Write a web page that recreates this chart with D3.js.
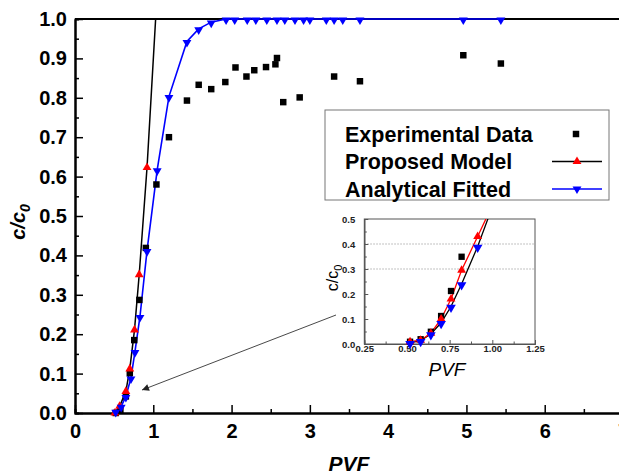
<!DOCTYPE html>
<html>
<head>
<meta charset="utf-8">
<script src="https://cdn.jsdelivr.net/npm/d3@7"></script>
<style>
  body { margin: 0; background: #fff; }
  text { font-family: "Liberation Sans", Arial, sans-serif; }
</style>
</head>
<body>
<svg width="619" height="475"></svg>
<script>
// experimental data (main plot)
var expX = [0.52, 0.58, 0.65, 0.70, 0.757, 0.822, 0.905, 1.04, 1.20, 1.43, 1.58, 1.74, 1.92, 2.05, 2.19, 2.29, 2.44, 2.56, 2.58, 2.66, 2.87, 3.31, 3.64, 4.96, 5.44];
var expY = [0.0, 0.008, 0.042, 0.101, 0.185, 0.287, 0.419, 0.58, 0.70, 0.793, 0.833, 0.822, 0.840, 0.877, 0.854, 0.870, 0.878, 0.885, 0.901, 0.789, 0.801, 0.854, 0.842, 0.908, 0.887];

// proposed model (red triangles, black line)
var modelX = [0.51, 0.57, 0.65, 0.70, 0.76, 0.82, 0.92];
var modelY = [0.0, 0.017, 0.055, 0.112, 0.211, 0.351, 0.623];
var modelEnd = [1.03, 1.0];

// analytical fitted (blue)
var fitX = [0.52, 0.59, 0.65, 0.715, 0.766, 0.83, 0.92, 1.05, 1.20, 1.43, 1.58, 1.74, 1.93, 2.04, 2.20, 2.31, 2.45, 2.58, 2.68, 2.81, 2.92, 3.00, 3.21, 3.31, 3.42, 3.64, 4.96, 5.44];
var fitY = [0.004, 0.017, 0.042, 0.089, 0.156, 0.245, 0.412, 0.617, 0.803, 0.943, 0.975, 0.992, 1, 1, 1, 1, 1, 1, 1, 1, 1, 1, 1, 1, 1, 1, 1, 1];

// inset data
var inX = [0.518, 0.58, 0.64, 0.70, 0.758, 0.82, 0.914];
var inExpY = [0.009, 0.019, 0.049, 0.112, 0.212, 0.349];
var inModelY = [0.009, 0.015, 0.043, 0.10, 0.18, 0.295, 0.43];
var inFitY = [0.005, 0.013, 0.04, 0.085, 0.15, 0.24, 0.39];
var inModelEnd = [1.0, 0.555];
var inFitEnd = [0.99, 0.53];

var yTicks = [0, 0.1, 0.2, 0.3, 0.4, 0.5, 0.6, 0.7, 0.8, 0.9, 1.0];
var xTicks = [0, 1, 2, 3, 4, 5, 6, 7];
var inYTicks = [0, 0.1, 0.2, 0.3, 0.4, 0.5];
var inXTicks = [0.25, 0.5, 0.75, 1.0, 1.25];
var inGrid = [0.3, 0.4];

var legendLabels = ["Experimental Data", "Proposed Model", "Analytical Fitted"];

var svg = d3.select("svg");
var x = d3.scaleLinear().domain([0, 7]).range([75, 623]);
var y = d3.scaleLinear().domain([0, 1]).range([413, 19]);

svg.append("rect").attr("width", 619).attr("height", 475).attr("fill", "#fff");

var defs = svg.append("defs");
defs.append("clipPath").attr("id", "mainclip").append("rect")
  .attr("x", 75).attr("y", 19).attr("width", 548).attr("height", 394);
defs.append("clipPath").attr("id", "inclip").append("rect")
  .attr("x", 364).attr("y", 219).attr("width", 171).attr("height", 125);
defs.append("marker").attr("id", "arrow").attr("viewBox", "0 0 10 10")
  .attr("refX", 10).attr("refY", 5).attr("markerWidth", 9).attr("markerHeight", 7)
  .attr("orient", "auto").attr("markerUnits", "userSpaceOnUse")
  .append("path").attr("d", "M0,0 L10,5 L0,10 Z").attr("fill", "#222");

var tri = d3.symbol().type(d3.symbolTriangle);
var sq = d3.symbol().type(d3.symbolSquare);

// axes
var minorY = d3.range(0.05, 1, 0.1);
var minorX = d3.range(0.5, 7, 1);
svg.append("g").attr("transform", "translate(75,0)")
  .call(d3.axisLeft(y).tickValues(minorY).tickSize(-4).tickFormat(""));
svg.append("g").attr("transform", "translate(0,413)")
  .call(d3.axisBottom(x).tickValues(minorX).tickSize(-4).tickFormat(""));
var ya = svg.append("g").attr("transform", "translate(75,0)")
  .call(d3.axisLeft(y).tickValues(yTicks).tickSize(-8).tickSizeOuter(0).tickPadding(8).tickFormat(d3.format(".1f")));
var xa = svg.append("g").attr("transform", "translate(0,413)")
  .call(d3.axisBottom(x).tickValues(xTicks).tickSize(-8).tickSizeOuter(0).tickPadding(11).tickFormat(d3.format("d")));
svg.selectAll(".domain").attr("stroke-width", 2);
svg.selectAll(".tick line").attr("stroke-width", 1.5);
ya.selectAll("text").attr("font-size", 20).attr("font-weight", "bold").attr("fill", "#000");
xa.selectAll("text").attr("font-size", 20).attr("font-weight", "bold").attr("fill", "#000");
svg.append("line").attr("x1", 75).attr("x2", 623).attr("y1", 19).attr("y2", 19)
  .attr("stroke", "#000").attr("stroke-width", 2);

// axis titles
svg.append("text").attr("x", 349).attr("y", 471).attr("text-anchor", "middle")
  .attr("font-size", 21).attr("font-weight", "bold").attr("font-style", "italic").text("PVF");
var yl = svg.append("text").attr("transform", "translate(25,222) rotate(-90)")
  .attr("text-anchor", "middle").attr("font-size", 20).attr("font-weight", "bold").attr("font-style", "italic");
yl.append("tspan").text("c/c");
yl.append("tspan").attr("font-size", 14).attr("dy", 5).text("0");

// main series
var line = d3.line().x(function(d) { return x(d[0]); }).y(function(d) { return y(d[1]); });
var modelPts = modelX.map(function(v, i) { return [v, modelY[i]]; });
var fitPts = fitX.map(function(v, i) { return [v, fitY[i]]; });
var expPts = expX.map(function(v, i) { return [v, expY[i]]; });

var plot = svg.append("g");
plot.append("path").attr("clip-path", "url(#mainclip)")
  .datum(modelPts.concat([modelEnd])).attr("d", line)
  .attr("fill", "none").attr("stroke", "#000").attr("stroke-width", 1.5);
plot.append("path").datum(fitPts).attr("d", line)
  .attr("fill", "none").attr("stroke", "#0000ff").attr("stroke-width", 1.6);
plot.selectAll(".exp").data(expPts).enter().append("path")
  .attr("d", sq.size(42)).attr("fill", "#000")
  .attr("transform", function(d) { return "translate(" + x(d[0]) + "," + y(d[1]) + ")"; });
plot.selectAll(".mod").data(modelPts).enter().append("path")
  .attr("d", tri.size(34)).attr("fill", "#ff0000")
  .attr("transform", function(d) { return "translate(" + x(d[0]) + "," + y(d[1]) + ")"; });
plot.selectAll(".fit").data(fitPts).enter().append("path")
  .attr("d", tri.size(34)).attr("fill", "#0000ff")
  .attr("transform", function(d) { return "translate(" + x(d[0]) + "," + (y(d[1]) + 1) + ") rotate(180)"; });

// legend
var lg = svg.append("g");
lg.append("rect").attr("x", 325).attr("y", 110).attr("width", 284).attr("height", 90)
  .attr("fill", "#fff").attr("stroke", "#777").attr("stroke-width", 1);
legendLabels.forEach(function(t, i) {
  var cy = 134 + i * 27.5;
  lg.append("text").attr("x", 345).attr("y", cy + 7.5).attr("font-size", 21.5)
    .attr("font-weight", "bold").text(t);
  if (i == 0) {
    lg.append("path").attr("d", sq.size(42)).attr("transform", "translate(576," + cy + ")");
  } else {
    lg.append("line").attr("x1", 552).attr("x2", 602).attr("y1", cy).attr("y2", cy)
      .attr("stroke", i == 1 ? "#000" : "#0000ff").attr("stroke-width", 1.5);
    lg.append("path").attr("d", tri.size(34)).attr("fill", i == 1 ? "#ff0000" : "#0000ff")
      .attr("transform", "translate(577," + cy + ")" + (i == 2 ? " rotate(180)" : ""));
  }
});

// arrow
svg.append("line").attr("x1", 336).attr("y1", 315).attr("x2", 142).attr("y2", 390)
  .attr("stroke", "#333").attr("stroke-width", 0.9).attr("marker-end", "url(#arrow)");

// inset
var ix = d3.scaleLinear().domain([0.25, 1.25]).range([364.3, 535]);
var iy = d3.scaleLinear().domain([0, 0.5]).range([344, 219]);
var ins = svg.append("g");
ins.selectAll(".grid").data(inGrid).enter().append("line")
  .attr("x1", 364.3).attr("x2", 535).attr("y1", function(d) { return iy(d); }).attr("y2", function(d) { return iy(d); })
  .attr("stroke", "#999").attr("stroke-width", 0.8).attr("stroke-dasharray", "1.5,1.5");
ins.append("g").attr("transform", "translate(364.3,0)")
  .call(d3.axisLeft(iy).tickValues(d3.range(0.05, 0.5, 0.1)).tickSize(-2.5).tickFormat(""));
ins.append("g").attr("transform", "translate(0,344)")
  .call(d3.axisBottom(ix).tickValues(d3.range(0.375, 1.25, 0.25)).tickSize(-2.5).tickFormat(""));
var iya = ins.append("g").attr("transform", "translate(364.3,0)")
  .call(d3.axisLeft(iy).tickValues(inYTicks).tickSize(-4).tickSizeOuter(0).tickPadding(9).tickFormat(d3.format(".1f")));
var ixa = ins.append("g").attr("transform", "translate(0,344)")
  .call(d3.axisBottom(ix).tickValues(inXTicks).tickSize(-4).tickSizeOuter(0).tickPadding(1).tickFormat(d3.format(".2f")));
iya.selectAll("text").attr("font-size", 9.5).attr("font-weight", "bold").attr("fill", "#222");
ixa.selectAll("text").attr("font-size", 9.5).attr("font-weight", "bold").attr("fill", "#222");
ins.selectAll(".domain").attr("stroke", "#555");
ins.selectAll(".tick line").attr("stroke", "#555");
ins.append("rect").attr("x", 364.3).attr("y", 219).attr("width", 170.7).attr("height", 125)
  .attr("fill", "none").attr("stroke", "#555").attr("stroke-width", 1);

var il = d3.line().x(function(d) { return ix(d[0]); }).y(function(d) { return iy(d[1]); });
var inModelPts = inX.map(function(v, i) { return [v, inModelY[i]]; });
var inFitPts = inX.map(function(v, i) { return [v, inFitY[i]]; });
var inExpPts = inExpY.map(function(v, i) { return [inX[i], v]; });
ins.append("path").attr("clip-path", "url(#inclip)").datum(inFitPts.concat([inFitEnd])).attr("d", il)
  .attr("fill", "none").attr("stroke", "#000").attr("stroke-width", 1.3);
ins.append("path").attr("clip-path", "url(#inclip)").datum(inModelPts.concat([inModelEnd])).attr("d", il)
  .attr("fill", "none").attr("stroke", "#ff0000").attr("stroke-width", 1.3);
ins.selectAll(".iexp").data(inExpPts).enter().append("path")
  .attr("d", sq.size(40)).attr("fill", "#000")
  .attr("transform", function(d) { return "translate(" + ix(d[0]) + "," + iy(d[1]) + ")"; });
ins.selectAll(".imod").data(inModelPts).enter().append("path")
  .attr("d", tri.size(34)).attr("fill", "#ff0000")
  .attr("transform", function(d) { return "translate(" + ix(d[0]) + "," + iy(d[1]) + ")"; });
ins.selectAll(".ifit").data(inFitPts).enter().append("path")
  .attr("d", tri.size(40)).attr("fill", "#0000ff")
  .attr("transform", function(d) { return "translate(" + ix(d[0]) + "," + (iy(d[1]) + 1) + ") rotate(180)"; });

var iyl = ins.append("text").attr("transform", "translate(338,278) rotate(-90)")
  .attr("text-anchor", "middle").attr("font-size", 16);
iyl.append("tspan").text("c/c");
iyl.append("tspan").attr("font-size", 11).attr("dy", 4).text("0");
ins.append("text").attr("x", 447).attr("y", 376).attr("text-anchor", "middle")
  .attr("font-size", 19).attr("font-style", "italic").text("PVF");
</script>
</body>
</html>
